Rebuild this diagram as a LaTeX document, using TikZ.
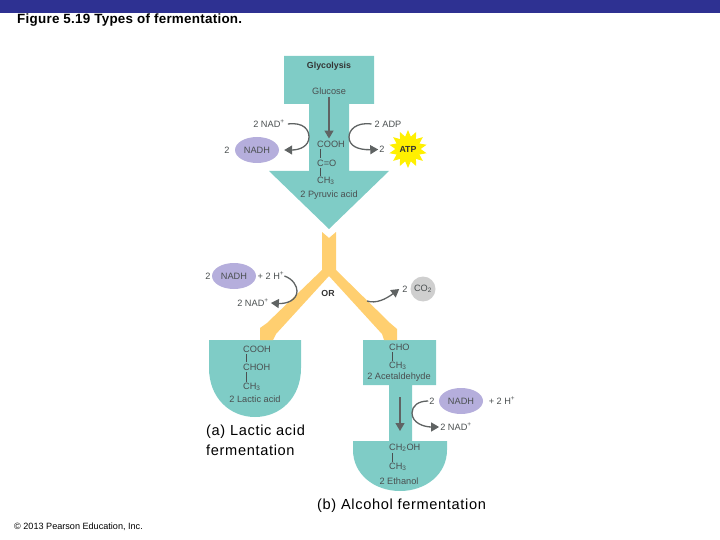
\documentclass[tikz,border=0pt]{standalone}
\usepackage{fontspec}
\setmainfont{Liberation Sans}
\newfontfamily\capfont[LetterSpace=4.5]{Liberation Sans}
\newfontfamily\titlefont[LetterSpace=2]{Liberation Sans}
\usetikzlibrary{arrows.meta,shapes.geometric}
\definecolor{teal1}{HTML}{7FCCC6}
\definecolor{gold1}{HTML}{FFCF70}
\definecolor{purp1}{HTML}{B5AEDC}
\definecolor{gray1}{HTML}{CFCFCF}
\definecolor{star1}{HTML}{FFF000}
\definecolor{band1}{HTML}{2E3192}
\definecolor{ink1}{HTML}{4A4F50}
\definecolor{arr1}{HTML}{5F6363}
\tikzset{
  chem/.style={font=\fontsize{9.2}{10}\selectfont,text=ink1,inner sep=0pt},
  chemw/.style={chem,anchor=west},
  boldl/.style={font=\fontsize{8.8}{10}\selectfont\bfseries,text=black!80,inner sep=0pt},
  oval/.style={ellipse,fill=purp1,minimum width=44pt,minimum height=26pt,inner sep=0pt,font=\fontsize{9.2}{10}\selectfont,text=ink1},
  flow/.style={draw=arr1,line width=1.3pt,-{Triangle[length=8pt,width=9pt]}},
  bond/.style={draw=ink1,line width=0.6pt},
  caption/.style={font=\capfont\fontsize{14.6}{15}\selectfont,text=black,inner sep=0pt,anchor=west},
}
\begin{document}
\begin{tikzpicture}[x=1pt,y=-1pt]
\useasboundingbox (0,0) rectangle (720,540);
\fill[band1] (0,0) rectangle (720,13);
% teal shapes
\fill[teal1] (284,56) -- (374,56) -- (374,104) -- (349,104) -- (349,171) -- (389,171) -- (329,229) -- (269,171) -- (309,171) -- (309,104) -- (284,104) -- cycle;
\fill[teal1] (209,340) -- (301,340) -- (301,368) .. controls (301,398) and (280,417) .. (255,417) .. controls (230,417) and (209,398) .. (209,368) -- cycle;
\fill[teal1] (363,340) -- (436,340) -- (436,385) -- (412,385) -- (412,441) -- (447,441) -- (447,450) .. controls (447,474) and (426,491) .. (400,491) .. controls (374,491) and (353,474) .. (353,450) -- (353,441) -- (389,441) -- (389,385) -- (363,385) -- cycle;
% yellow branch
\fill[gold1] (322,232) -- (329,238) -- (336,232) -- (336,270) -- (390,323) -- (397,329) -- (397,340) -- (384,340) -- (382,334) -- (329,276) -- (276,334) -- (273,340) -- (260,340) -- (260,328) -- (267,323) -- (322,270) -- cycle;
% top
\node[boldl] (gly) at (329,66) {Glycolysis};
\node[chem] (glu) at (329,91) {Glucose};
\node[chemw] (cooh) at (317,144) {COOH};
\node[chemw] (co) at (317,163) {C=O};
\node[chemw] (ch3a) at (317,181) {CH\textsubscript{3}};
\node[chem] (pyr) at (329,195) {2 Pyruvic acid};
\draw[flow] ([yshift=-2pt]glu.south) -- ([yshift=2pt]glu.south |- cooh.north);
\draw[bond] ([xshift=3pt,yshift=-1.3pt]cooh.south west) -- ([xshift=3pt,yshift=1.3pt]co.north west);
\draw[bond] ([xshift=3pt,yshift=-1.3pt]co.south west) -- ([xshift=3pt,yshift=1.3pt]ch3a.north west);
\node[chem] (nadp1) at (269,124) {2 NAD\textsuperscript{+}};
\node[oval] (nadh1) at (257,150) {NADH};
\node[chem] (two1) at (227,150) {2};
\draw[flow] ([xshift=3pt]nadp1.east) .. controls (304,122) and (309,130) .. (309,137) .. controls (309,146) and (300,150) .. ([xshift=5pt]nadh1.east);
\node[chem] (adp) at (388,124) {2 ADP};
\node[chem] (two2) at (382,149.5) {2};
\node[star,star points=14,star point ratio=1.5,fill=star1,minimum size=38pt,inner sep=0pt,font=\fontsize{8.8}{10}\selectfont\bfseries,text=black!80] (atp) at (408,149) {ATP};
\draw[flow] ([xshift=-3pt]adp.west) .. controls (356,122) and (349,130) .. (349,137) .. controls (349,146) and (358,150) .. ([xshift=-1pt]two2.west);
% middle
\node[chem] (two3) at (208,276) {2};
\node[oval] (nadh2) at (234,276) {NADH};
\node[chem] (hp1) at (271,276) {+ 2 H\textsuperscript{+}};
\node[chem] (nadp2) at (253,303) {2 NAD\textsuperscript{+}};
\draw[flow] (hp1.east) .. controls (293,279) and (297,286) .. (297,291) .. controls (297,300) and (287,304) .. ([xshift=2pt]nadp2.east);
\node[boldl] (or) at (328,293) {OR};
\node[circle,fill=gray1,minimum size=25pt,inner sep=0pt,font=\fontsize{9.2}{10}\selectfont,text=ink1] (co2) at (423,289) {CO\textsubscript{2}};
\node[chem] (two4) at (405,289) {2};
\coordinate (co2s) at (367,301);
\draw[flow] (co2s) .. controls (376,304) and (386,299) .. ([xshift=-3pt]two4.west);
% lactic
\node[chemw] (c1) at (243,349) {COOH};
\node[chemw] (c2) at (243,367) {CHOH};
\node[chemw] (c3) at (243,387) {CH\textsubscript{3}};
\node[chem] (lac) at (255,399.5) {2 Lactic acid};
\draw[bond] ([xshift=3pt,yshift=-1.3pt]c1.south west) -- ([xshift=3pt,yshift=1.3pt]c2.north west);
\draw[bond] ([xshift=3pt,yshift=-1.3pt]c2.south west) -- ([xshift=3pt,yshift=1.3pt]c3.north west);
% alcohol
\node[chemw] (d1) at (389,347) {CHO};
\node[chemw] (d2) at (389,366) {CH\textsubscript{3}};
\node[chem] (ace) at (399,377) {2 Acetaldehyde};
\draw[bond] ([xshift=3pt,yshift=-1.3pt]d1.south west) -- ([xshift=3pt,yshift=1.3pt]d2.north west);
\node[chemw] (e1) at (389,448) {CH\textsubscript{2}OH};
\node[chemw] (e2) at (389,467) {CH\textsubscript{3}};
\node[chem] (eth) at (399,481) {2 Ethanol};
\draw[bond] ([xshift=3pt,yshift=-1.3pt]e1.south west) -- ([xshift=3pt,yshift=1.3pt]e2.north west);
\coordinate (aa) at (400,397);
\coordinate (ab) at (400,431);
\draw[flow] (aa) -- (ab);
\node[chem] (two5) at (432,401) {2};
\node[oval] (nadh3) at (461,401) {NADH};
\node[chem] (hp2) at (502,401) {+ 2 H\textsuperscript{+}};
\node[chem] (nadp3) at (456,427) {2 NAD\textsuperscript{+}};
\draw[flow] ([xshift=-1pt]two5.west) .. controls (418,401) and (412,406) .. (412,413) .. controls (412,423) and (424,427) .. ([xshift=-1pt]nadp3.west);
% captions
\node[font=\titlefont\fontsize{13.4}{14}\selectfont\bfseries,text=black,inner sep=0pt,anchor=west] (title) at (17,20) {Figure 5.19 Types of fermentation.};
\node[caption] (capa1) at (206,432) {(a) Lactic acid};
\node[caption] (capa2) at (206,450) {fermentation};
\node[caption] (capb) at (317,506) {(b) Alcohol fermentation};
\node[font=\fontsize{9.1}{10}\selectfont,text=black,inner sep=0pt,anchor=west] (copy) at (14,526.5) {© 2013 Pearson Education, Inc.};
\end{tikzpicture}
\end{document}
